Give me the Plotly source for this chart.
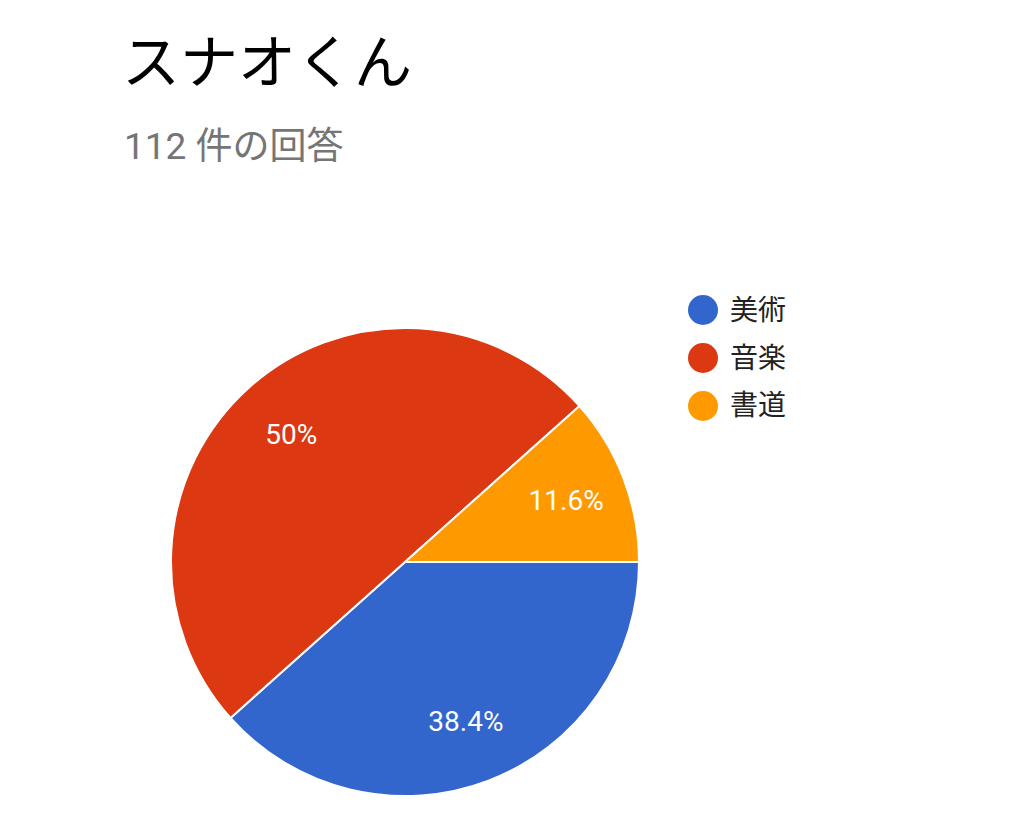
import plotly.graph_objects as go

title = "スナオくん"
subtitle = "112 件の回答"
labels = ["美術", "音楽", "書道"]
counts = [43, 56, 13]
colors = ["#3366cc", "#dc3912", "#ff9900"]

W, H = 1024, 835
OFF = 8  # page body margin
font_family = "Roboto, 'Noto Sans CJK JP', sans-serif"

pie_domain = dict(x=[(171 - OFF) / W, (639 - OFF) / W],
                  y=[1 - (796 - OFF) / H, 1 - (328 - OFF) / H])

fig = go.Figure()
# the slices
fig.add_trace(go.Pie(
    labels=labels,
    values=counts,
    sort=False,
    direction="clockwise",
    rotation=90,
    marker=dict(colors=colors, line=dict(color="white", width=2)),
    textinfo="none",
    showlegend=False,
    hoverinfo="label+value+percent",
    domain=pie_domain,
))
# transparent donut on top, only to push the % labels out towards the rim
fig.add_trace(go.Pie(
    labels=labels,
    values=counts,
    sort=False,
    direction="clockwise",
    rotation=90,
    hole=0.46,
    marker=dict(colors=["rgba(0,0,0,0)"] * len(labels), line=dict(width=0)),
    textinfo="percent",
    textposition="inside",
    insidetextorientation="horizontal",
    textfont=dict(color="white", size=28, family=font_family),
    showlegend=False,
    hoverinfo="skip",
    domain=pie_domain,
))

# legend drawn by hand: plotly caps legend marker size
shapes = []
annotations = []
for i, (lab, col) in enumerate(zip(labels, colors)):
    cy = 310 - OFF + i * 48
    cx = 703 - OFF
    shapes.append(dict(
        type="circle", xref="paper", yref="paper",
        x0=(cx - 15) / W, x1=(cx + 15) / W,
        y0=1 - (cy + 15) / H, y1=1 - (cy - 15) / H,
        fillcolor=col, line=dict(width=0),
    ))
    annotations.append(dict(
        text=lab, xref="paper", yref="paper",
        x=720 / W, y=1 - cy / H, xanchor="left", yanchor="middle",
        showarrow=False, font=dict(size=28, color="#222222", family=font_family),
    ))

annotations.append(dict(
    text=title, xref="paper", yref="paper",
    x=112 / W, y=1 - 55 / H, xanchor="left", yanchor="middle",
    showarrow=False, font=dict(size=58, color="black", family=font_family),
))
annotations.append(dict(
    text=subtitle, xref="paper", yref="paper",
    x=114 / W, y=1 - 138 / H, xanchor="left", yanchor="middle",
    showarrow=False, font=dict(size=37, color="#757575", family=font_family),
))

fig.update_layout(
    width=W, height=H,
    margin=dict(l=0, r=0, t=0, b=0),
    paper_bgcolor="white",
    plot_bgcolor="white",
    shapes=shapes,
    annotations=annotations,
    font=dict(family=font_family),
)

fig.write_html("out.html")
